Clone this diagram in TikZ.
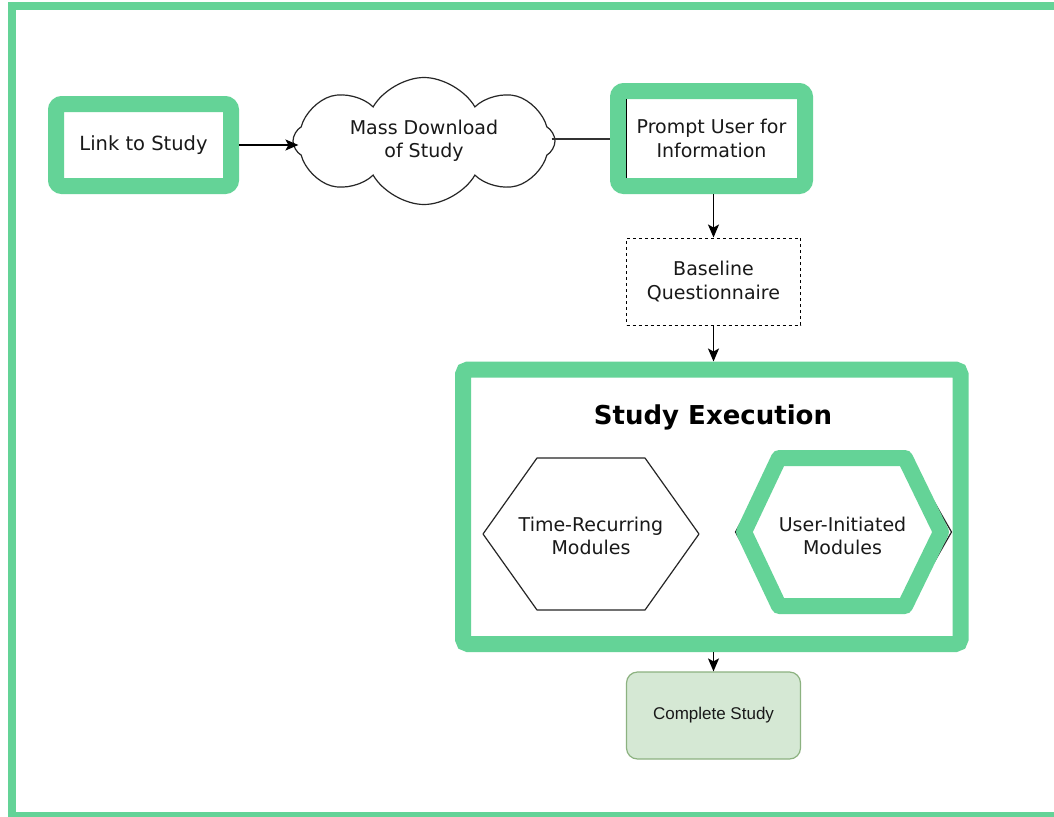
\documentclass[tikz,border=0pt]{standalone}
\usepackage{fontspec}
\setmainfont{DejaVu Sans}
\newfontfamily\libsans{Liberation Sans}
\usetikzlibrary{shapes.symbols,arrows.meta,calc}
\definecolor{hl}{RGB}{100,211,151}
\definecolor{txt}{RGB}{25,25,25}
\definecolor{cfill}{RGB}{213,232,212}
\definecolor{cdraw}{RGB}{140,178,128}
\tikzset{
  hlbox/.style={draw=hl, line width=16pt, rounded corners=6pt, inner sep=0pt, fill=white, text=txt, align=center},
  lbl/.style={text=txt, align=center, font=\fontsize{19}{23.5}\selectfont, inner sep=0pt},
  arr/.style={draw=black, line width=1.3pt, -{Stealth[length=13pt,width=11pt,inset=3pt]}},
  plain/.style={draw=black!80, line width=1.3pt},
}
\begin{document}
\begin{tikzpicture}[x=1pt,y=-1pt]
\useasboundingbox (0,0) rectangle (1054,816);
\fill[white] (0,0) rectangle (1054,816);
% outer frame
\draw[hl, line width=8pt] (12,6) rectangle (1075,816);

% nodes
\node[hlbox, minimum width=175pt, minimum height=82pt, font=\fontsize{19.5}{23.5}\selectfont] (link) at (143.5,145) {Link to Study};
\node[cloud, draw=black!85, line width=1.2pt, cloud puffs=8, cloud puff arc=120, cloud ignores aspect, minimum width=262pt, minimum height=127pt, inner sep=0pt, text=txt, align=center, font=\fontsize{19}{23.5}\selectfont] (cloud) at (424,141) {Mass Download\\of Study};
\node[hlbox, minimum width=187pt, minimum height=95pt, font=\fontsize{19}{23.5}\selectfont] (prompt) at (711.5,138.5) {Prompt User for\\Information};
\draw[black, line width=1pt] ([shift={(16.5,16)}]prompt.north west) -- ([shift={(16.5,-16)}]prompt.south west);
\node[draw=black, line width=1pt, dash pattern=on 3pt off 3pt, minimum width=174pt, minimum height=87pt, inner sep=0pt, text=txt, align=center, font=\fontsize{19}{23.5}\selectfont] (base) at (713.5,281.5) {Baseline\\Questionnaire};
\node[draw=hl, line width=16pt, rounded corners=5pt, minimum width=497.5pt, minimum height=274.5pt, inner sep=0pt] (exec) at (711.75,506.75) {};
\node[lbl, font=\fontsize{26}{30}\selectfont\bfseries, text=black] (title) at (713,417) {Study Execution};

% Time-Recurring hexagon
\node[lbl] (tr) at (591,536) {Time-Recurring\\Modules};
\draw[black!85, line width=1.2pt, line join=round]
  ([shift={(-108,-2)}]tr.center) -- ([shift={(-54,-78)}]tr.center) -- ([shift={(54,-78)}]tr.center)
  -- ([shift={(108,-2)}]tr.center) -- ([shift={(54,74)}]tr.center) -- ([shift={(-54,74)}]tr.center) -- cycle;

% User-Initiated hexagon
\node[lbl] (ui) at (842.5,536) {User-Initiated\\Modules};
\draw[black!85, line width=1.2pt, line join=round]
  ([shift={(-107,-4)}]ui.center) -- ([shift={(-63,-84)}]ui.center) -- ([shift={(63,-84)}]ui.center)
  -- ([shift={(109,-4)}]ui.center) -- ([shift={(63,76)}]ui.center) -- ([shift={(-63,76)}]ui.center) -- cycle;
\draw[hl, line width=16pt, line join=round]
  ([shift={(-98.5,-4)}]ui.center) -- ([shift={(-63.5,-78)}]ui.center) -- ([shift={(62.5,-78)}]ui.center)
  -- ([shift={(98.5,-4)}]ui.center) -- ([shift={(62.5,70)}]ui.center) -- ([shift={(-63.5,70)}]ui.center) -- cycle;

\node[draw=cdraw, fill=cfill, line width=1.2pt, rounded corners=11pt, minimum width=174pt, minimum height=87pt, inner sep=0pt, text=txt, font=\libsans\fontsize{17}{20}\selectfont] (done) at (713.5,715.5) {Complete Study};

% connectors
\draw[arr] (link.east) -- ($(link.east -| cloud.west)+(6,0)$);
\draw[plain] ($(cloud.east)+(-4,-2)$) -- (prompt.west |- {$(cloud.east)+(0,-2)$});
\draw[arr] (prompt.south -| base.north) -- (base.north);
\draw[arr] (base.south) -- (base.south |- exec.north);
\draw[arr] (exec.south -| done.north) -- (done.north);
\end{tikzpicture}
\end{document}
